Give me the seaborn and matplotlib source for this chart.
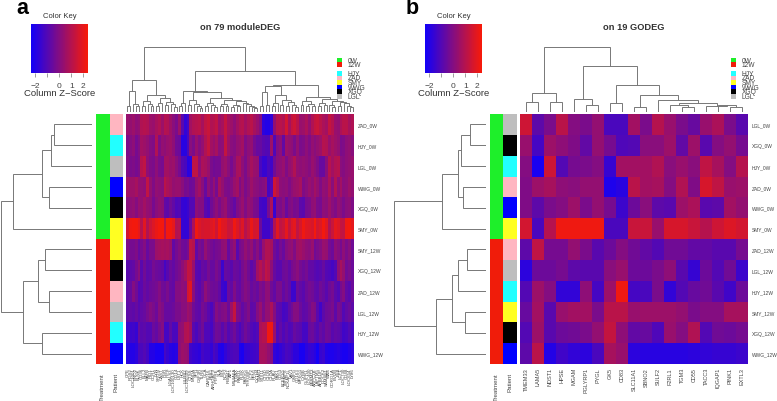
import numpy as np
import pandas as pd
import seaborn as sns
import matplotlib
matplotlib.use("Agg")
import matplotlib.pyplot as plt
from matplotlib.colors import LinearSegmentedColormap, ListedColormap
from matplotlib.patches import Rectangle

W, H = 777, 402

# ---- panel a data ----
rows_a = ["ZAD_0W", "HJY_0W", "LGL_0W", "WWG_0W", "XGQ_0W", "SMY_0W",
          "SMY_12W", "XGQ_12W", "ZAD_12W", "LGL_12W", "HJY_12W", "WWG_12W"]
patient_a = ["ZAD", "HJY", "LGL", "WWG", "XGQ", "SMY", "SMY", "XGQ", "ZAD", "LGL", "HJY", "WWG"]

# gene names are barely legible in the source, these are best guesses
genes_a = ["CPE", "RGS2", "LOC1001", "ENO2", "BLNK", "CD36", "ELL2", "MAFB", "PID1", "CCR1",
           "LYN", "SRGN", "CAST", "FGR", "IRF8", "LGALS3", "LOC100130", "CD14", "LST1", "HCK",
           "LILRB2", "LOC100509", "CTSS", "MNDA", "SPI1", "CSF3R", "TLR8", "GCA", "CARD16", "FPR1",
           "ARHGAP9", "PTPRE", "SLA", "BTK", "NCF2", "RBM47", "AIF1", "MS4A6A", "ITGAX", "RAB31",
           "PLEK", "PARVG", "TYROBP", "LCP2", "PFN1", "CYTH4", "STAB1", "STX11", "CTSD", "C1QB",
           "C1QA", "PLAU", "PAK1", "CD53", "FCER1G", "TNFAIP8", "NCKAP1L", "VAV1", "GMFG", "CD163",
           "MPEG1", "CYBB", "GLIPR1", "LOC400", "FERMT3", "ARPC1B", "LAPTM5", "APBB1IP", "DOCK2", "SAMSN1",
           "WAS", "CORO1A", "EVI2B", "FYB", "LCP1", "LOC730", "CD48", "LOC654", "LY86"]

vals_a_rows = [
    [0.4, 0.3, 0.5, 0.2, 0.3, 0.9, 1.0, 0.9, 0.5, 0.4,
     0.7, 0.9, 0.5, 1.0, 0.9, 0.5, 0.1, -0.2, 0.5, -0.9,
     -1.7, -1.3, 0.6, 0.9, 1.0, 1.1, 0.7, 1.2, 1.4, 0.9,
     1.0, 1.2, 0.5, 0.7, 1.3, 0.7, 0.5, 0.2, 0.6, 0.9,
     1.0, 0.6, 0.9, 1.1, 0.7, 0.4, 0.0, -1.8, -2.0, -2.0,
     -1.7, 0.3, 1.0, 1.1, 0.9, 1.6, 0.7, 1.3, 1.5, 1.1,
     0.4, 0.5, 0.8, 0.3, 0.9, 1.3, 1.4, 1.1, 0.8, 0.6,
     1.3, 1.0, 0.4, 0.3, 0.8, 1.1, 1.1, 0.7, 0.9],
    [-0.2, 0.0, 0.2, -0.3, 0.0, 0.6, 0.5, 0.3, 0.0, -0.1,
     0.9, -0.1, 0.3, 0.2, 0.4, 0.5, 0.2, -0.4, -0.5, -1.9,
     -1.9, -1.2, 0.1, -0.2, 0.4, 0.0, 0.3, 0.9, 1.3, 0.6,
     0.4, 0.7, 0.1, 0.2, 1.3, 0.5, 0.1, 0.0, 0.3, 0.4,
     0.6, -0.1, 0.2, 0.3, -0.3, -0.6, -0.6, -0.9, -1.0, -1.0,
     0.5, -1.1, 0.0, 0.2, -0.7, 0.5, 0.3, 0.2, -0.2, 0.3,
     -0.2, -0.1, 0.2, -0.1, 0.3, 0.1, 0.3, 0.5, 1.0, 0.9,
     0.4, 0.7, 0.5, 0.3, -0.2, -0.1, 0.2, 0.3, 0.1],
    [0.0, -0.2, -0.1, -0.3, -0.1, 1.0, 1.2, 0.2, -0.1, -0.2,
     0.2, -0.2, -0.3, 0.6, 0.6, 0.4, 0.5, 0.1, -0.3, -1.0,
     -1.2, -1.9, -1.8, 1.2, 1.2, 0.2, 0.8, 0.7, 0.4, -0.2,
     -0.4, -0.3, -0.3, 0.3, 0.5, 0.1, -0.3, 0.1, 0.7, 0.8,
     0.2, -0.2, 0.3, 0.7, 0.4, 0.3, -1.2, -1.6, -1.6, -1.2,
     -1.4, -0.4, 0.1, 0.2, 0.4, -0.1, 0.3, 0.5, 0.9, 0.3,
     0.2, 0.3, 0.2, 0.0, 0.4, 0.2, -0.1, -0.6, -0.6, 0.1,
     1.0, 0.6, 0.9, 1.0, 0.1, 0.0, 0.2, 0.3, 0.4],
    [0.6, 0.5, 0.5, 0.7, 0.3, 0.3, 0.2, 1.2, 0.3, -0.1,
     0.3, 0.2, 0.1, 1.1, 0.8, 0.6, 0.3, 0.4, 0.4, 0.1,
     -0.3, -0.2, -0.5, -0.4, 0.3, 0.6, 0.1, -0.6, 0.2, -0.2,
     0.3, -0.3, 0.7, 0.3, -0.1, -0.2, 0.0, 0.4, 0.6, -0.1,
     0.3, -0.2, 0.1, 0.5, 0.2, 0.1, -0.1, 0.0, 0.2, -1.3,
     -1.0, 1.5, 1.0, 0.2, 0.1, 0.2, -0.1, 0.2, 0.4, 0.5,
     0.7, -0.1, 0.1, 0.4, 0.2, 0.6, 0.3, -0.1, 0.3, 0.2,
     0.8, 0.1, 0.9, 0.2, 0.6, 0.1, 0.2, 0.5, 0.3],
    [0.1, 0.2, 0.3, 0.0, 0.4, 0.3, 0.6, 0.3, 0.2, -0.3,
     0.1, 0.3, 0.2, -0.7, -0.8, -0.4, -0.7, -1.1, -1.0, -1.6,
     -1.7, -1.5, -1.0, -1.0, 0.2, 0.0, 0.0, -0.9, -1.1, -0.4,
     -0.1, 0.2, -0.2, 0.2, 0.4, -0.2, -0.4, -0.7, -0.1, 0.1,
     0.4, -0.1, 0.3, 0.2, -0.2, -0.3, -1.3, -1.4, -1.4, -0.3,
     0.8, -1.6, -0.1, -0.2, 0.1, -0.6, -0.1, 0.0, -0.3, -0.2,
     -0.8, -0.9, -0.3, -0.2, 0.2, 0.3, -0.2, -0.3, 0.2, 0.1,
     0.5, 0.1, -0.1, 0.3, 0.1, -0.2, 0.1, 0.2, -0.1],
    [1.6, 2.2, 2.3, 2.3, 2.0, 1.0, 1.9, 0.9, 1.5, 1.8,
     2.1, 2.3, 2.3, 1.1, 2.3, 2.3, 2.0, 0.9, 1.0, -1.6,
     -1.7, -1.6, -0.5, 0.8, 2.2, 1.8, 1.6, 1.7, 1.7, 1.8,
     2.0, 1.5, 2.3, 1.9, 1.8, 1.4, 1.5, 2.2, 1.8, 1.4,
     1.8, 1.0, 1.4, 2.1, 1.6, 1.7, -0.5, -1.4, -1.4, -1.4,
     -0.9, 0.9, 1.9, 1.2, 1.4, 2.0, 1.3, 1.8, 2.0, 1.2,
     1.7, 2.2, 1.9, 1.8, 1.7, 2.3, 1.6, 1.8, 2.3, 1.9,
     0.9, 1.4, 2.0, 1.8, 1.3, 1.2, 2.2, 2.3, 2.0],
    [-0.1, -0.3, -0.3, -0.1, -0.6, -0.3, 0.0, -0.6, -0.2, -0.2,
     0.5, 0.6, 0.7, 0.6, 0.7, 0.5, -0.7, -0.3, 0.0, -0.4,
     -0.5, -0.2, 1.2, 1.0, -0.7, -0.2, -0.4, 0.3, -0.1, -0.3,
     -0.5, -0.3, -0.2, 0.2, 0.3, -0.6, 0.0, 0.3, -0.9, -0.3,
     -0.1, 0.3, 0.0, 0.3, -0.3, 0.1, -0.5, 0.4, 0.9, 0.9,
     0.7, -0.4, -0.7, -0.3, -0.6, 0.0, 0.2, 0.3, -0.1, 0.5,
     0.6, 0.4, 0.2, 0.1, 0.4, -0.4, -0.2, 0.0, 0.4, 0.3,
     -0.3, -0.5, 0.2, 0.0, -0.3, 0.2, -0.2, 0.1, -0.4],
    [-0.9, -0.8, -0.7, -0.3, 0.1, -0.9, -0.4, -0.8, -0.7, -0.3,
     -0.5, -0.6, -0.7, -1.3, -0.9, -0.5, -0.7, -0.4, -0.2, 0.2,
     0.6, 1.3, 1.2, 0.4, -0.9, -1.0, -0.6, -0.7, -0.3, -0.6,
     -0.6, -0.2, -0.5, -1.5, -0.6, -0.7, -0.9, -0.5, -0.6, -0.8,
     -0.3, 0.0, -0.4, -0.8, -0.5, 0.6, 1.0, 0.6, 1.2, 1.0,
     0.2, -0.6, -0.9, -0.9, -0.5, -0.4, -0.7, -0.3, -0.1, 0.1,
     -0.3, -0.5, -0.3, -0.7, -0.7, -0.9, -1.0, -0.9, -0.6, -1.0,
     -1.1, -1.3, -1.0, 0.2, 0.7, 0.3, -0.4, -0.2, -0.5],
    [-0.7, -0.6, 0.0, -0.4, -1.0, -0.9, -0.5, -0.7, -0.5, -0.4,
     -0.3, 0.0, -0.4, -0.5, -0.2, -0.6, -0.7, 0.0, 0.0, 0.2,
     0.1, 1.6, 1.9, 0.1, -0.7, -0.9, -0.5, 0.2, -0.2, -0.4,
     -0.5, -0.4, -0.7, -1.5, -1.6, -0.5, -0.7, -0.1, -0.6, -0.7,
     -0.3, 0.0, -0.2, -0.6, -0.4, -0.6, -0.1, -0.3, 0.2, 0.2,
     -0.4, -0.7, -0.2, -0.2, -0.7, -0.4, -0.7, -1.5, -1.5, -0.5,
     -0.7, -0.9, -0.5, -0.3, -0.4, -0.7, -0.8, -0.4, -0.6, -0.9,
     -0.5, -0.3, -0.8, -1.0, -0.3, 0.0, -0.7, -0.9, -0.5],
    [-0.8, -0.7, -0.8, -0.6, -0.9, -0.7, -0.6, -0.3, 0.0, -0.2,
     -0.5, 0.1, -0.1, -0.6, -0.6, -0.6, -0.5, -0.2, -0.2, 0.1,
     0.1, 0.5, 0.3, -0.4, -0.7, -0.8, -0.3, -0.5, -0.9, -1.2,
     -0.7, 0.0, -0.3, -0.1, 0.0, -0.5, 0.5, 1.3, -0.1, -0.3,
     -0.7, -0.4, -0.1, -0.8, -0.7, 0.0, 0.4, -0.2, 0.3, 0.3,
     0.8, 0.0, -0.8, -0.9, -1.3, -1.2, -0.7, -0.4, 0.0, 0.0,
     -0.5, -0.8, -0.7, -0.4, 0.0, -0.1, -0.9, -1.4, -0.8, -0.5,
     -0.4, -0.2, -0.8, -0.2, -0.4, -1.0, -0.7, -0.5, -0.8],
    [-1.5, -1.5, -1.4, -1.6, -0.6, -0.9, -0.8, -1.0, -1.0, -0.5,
     -0.7, -0.3, 0.0, -1.3, -1.3, -0.7, -1.2, -1.2, 0.2, 0.3,
     0.9, 1.0, 0.6, -0.9, -1.2, -0.8, -0.4, -1.1, -1.1, -1.3,
     -0.8, -0.4, -0.5, -0.9, -0.5, -1.0, -0.7, -0.4, -0.9, -1.2,
     -0.8, -0.4, -0.7, -1.0, -1.2, -1.0, 0.8, 1.0, 1.0, 2.2,
     2.2, 0.4, -1.0, -0.7, -1.1, -0.8, -1.1, -1.0, -0.6, -0.8,
     -0.9, -1.3, -1.3, -0.6, -0.5, -0.8, -1.0, -0.6, -0.8, -0.4,
     -0.5, -0.9, -0.7, -0.8, -1.0, -1.4, -1.3, -1.0, -1.3],
    [-1.9, -2.0, -2.0, -1.8, -1.2, -1.2, -1.0, -1.3, -2.0, -2.0,
     -2.2, -2.2, -2.2, -1.3, -1.6, -1.9, -2.0, -1.9, 0.2, 0.5,
     0.4, 0.2, -1.4, -1.6, -1.7, -1.8, -1.3, -1.5, -1.5, -1.7,
     -1.2, -1.4, -2.0, -2.1, -1.7, -1.4, -1.2, -1.1, -1.1, -2.1,
     -2.2, -1.7, -1.6, -1.5, -1.4, -1.3, 0.7, 0.7, 0.6, 0.3,
     0.0, -1.7, -1.9, -1.7, -1.5, -1.2, -1.3, -1.5, -1.8, -1.8,
     -2.2, -2.2, -1.8, -1.6, -1.7, -1.9, -2.3, -1.6, -1.5, -2.0,
     -2.1, -2.1, -2.0, -1.9, -2.1, -2.2, -2.2, -2.0, -1.8],
]

# ---- panel b data ----
rows_b = ["LGL_0W", "XGQ_0W", "HJY_0W", "ZAD_0W", "WWG_0W", "SMY_0W",
          "ZAD_12W", "LGL_12W", "HJY_12W", "SMY_12W", "XGQ_12W", "WWG_12W"]
patient_b = ["LGL", "XGQ", "HJY", "ZAD", "WWG", "SMY", "ZAD", "LGL", "HJY", "SMY", "XGQ", "WWG"]
genes_b = ["TMEM33", "LAMA5", "NDST1", "HPSE", "MGAM", "PGLYRP1", "PYGL", "GK5", "CD83", "SLC11A1",
           "SBNO2", "SULF2", "F2RL1", "TGM3", "CD55", "TACC3", "IQGAP1", "PINK1", "EXTL3"]
vals_b_rows = [
    [1.5, -0.8, -0.2, 1.1, 0.0, -0.2, 0.3, -1.2, -1.2, 0.6, -0.2, 1.0, 0.4, -0.2, -0.6, 0.4, 0.8, -0.2, -0.9],
    [0.4, -1.3, 0.5, 0.2, -0.1, -0.7, 0.3, -0.3, -1.1, -1.0, 0.1, 0.1, 0.5, -0.7, 0.5, -0.9, 0.0, 0.3, -0.3],
    [0.0, -2.2, 1.5, -1.0, -0.3, -0.2, 0.0, -1.6, 0.6, 0.6, 0.6, 0.9, 0.1, 0.4, 0.1, 1.2, 0.7, 0.0, 1.0],
    [-0.1, 0.5, 0.7, 0.2, 0.1, 0.3, 0.3, -2.1, -1.9, 1.1, 0.6, 0.7, 0.0, 0.9, -0.1, 1.7, 1.2, 0.4, 0.5],
    [-0.1, -0.8, -0.2, 0.0, 0.5, -0.2, 0.3, -0.3, -1.5, -0.5, 0.1, -0.8, -0.9, 0.5, 0.8, -0.9, -0.8, 0.6, 0.3],
    [1.6, -1.2, 1.0, 2.2, 2.2, 2.2, 2.2, -1.2, -1.2, 1.4, 1.4, 0.4, 1.7, 1.7, 1.4, 1.0, 1.5, 1.8, 1.6],
    [-0.8, 1.2, -0.3, -0.3, 0.3, -0.2, -0.9, -0.5, 0.0, -0.4, -0.7, -1.0, -0.4, -0.4, -0.7, -0.7, -0.9, -0.9, -0.3],
    [-1.8, -0.5, -0.5, -0.3, -0.8, -0.9, -0.9, 0.1, 0.4, -0.5, -0.5, -0.2, 0.2, -0.9, -1.6, -0.5, -1.0, -0.4, -1.5],
    [-1.0, 0.5, 0.0, -1.7, -1.7, 0.2, -1.3, 0.5, 2.2, -1.3, -1.2, -0.2, -1.7, -1.0, -0.6, -0.4, -0.9, -1.4, -0.5],
    [-0.6, 0.6, -0.9, 0.4, 0.6, 0.6, -0.2, 1.1, 1.1, 0.4, 0.5, 0.5, 0.5, 0.3, -0.2, 0.0, 0.0, 0.7, 0.7],
    [-1.0, 0.5, -0.9, -0.5, -0.4, -0.2, 0.3, 1.3, 0.2, -0.7, -0.6, -1.1, 0.4, 0.0, 0.9, -1.0, -0.4, -0.5, -0.3],
    [-0.8, 1.1, -2.0, -1.4, -1.7, -1.8, -1.2, 0.7, 0.4, -1.8, -1.9, -1.9, -1.9, -1.9, -1.8, -1.7, -1.6, -1.6, -1.5],
]

# dendrograms as (merge height, left, right), 0 is a leaf
cols_tree_a = (65,
    (32,
        (21, (6, 0, 0), (8, 0, (6, 0, 0))),
        (17,
            (11, (6, 0, 0), (8, 0, (6, 0, 0))),
            (14, (9, (6, 0, 0), 0), (10, (7, 0, 0), (8, 0, (5, 0, 0)))))),
    (41,
        (21,
            (9, (6, 0, 0), 0),
            (20.5,
                (12, (7, 0, 0), (8, 0, (6, 0, (4, 0, 0)))),
                (14,
                    (9, (6, 0, 0), (7, 0, (5, 0, 0))),
                    (12,
                        (8, (6, 0, 0), (6, 0, 0)),
                        (11,
                            (7, (5, 0, 0), (6, 0, 0)),
                            (9, 0, (8, 0, (6, 0, (5, 0, (4, 0, 0)))))))))),
        (27,
            (26,
                (20, (6, 0, 0), (7, 0, 0)),
                (17, (9, (6, 0, 0), 0), (12, (7, 0, 0), (10, (6, 0, 0), (7, 0, (5, 0, 0)))))),
            (15,
                (11, (7, 0, 0), (8, (6, 0, 0), (6, 0, 0))),
                (13,
                    (9, (6, 0, 0), (7, 0, 0)),
                    (11, (7, 0, (5, 0, 0)), (10, (6, 0, 0), (9, 0, (6, 0, (5, 0, 0))))))))))
rows_tree_a = (91,
    (79.5, (49.7, (41, (38, 0, 0), 0), (42.7, 0, 0)), 0),
    (68.7, (53.7, (47, 0, 0), (42.7, 0, 0)), (49.7, 0, 0)))
cols_tree_b = (65,
    (19, (10, 0, 0), (10, 0, 0)),
    (45.7,
        (13, 0, (7, 0, 0)),
        (27,
            (8.7, 0, 0),
            (17,
                (5, 0, 0),
                (11.7,
                    0,
                    (8.7,
                        (7, 0, (5.5, 0, 0)),
                        (6, 0, (7, 0, (5, 0, 0)))))))))
rows_tree_b = (91.7,
    (43.7,
        (27.7, (25.3, (16.3, 0, 0), 0), (23.3, 0, 0)),
        0),
    (50.3,
        (33.7, (27.7, (19, 0, 0), 0), (21, 0, 0)),
        0))

treatment_order = ["0W", "12W"]
patient_order = ["HJY", "ZAD", "SMY", "WWG", "XGQ", "LGL"]
treatment_colors = {"0W": "#1EEF2A", "12W": "#F01C0A"}
patient_colors = {"HJY": "#22FFFF", "ZAD": "#FFB6C1", "SMY": "#FFFF22", "WWG": "#0000FF",
                  "XGQ": "#000000", "LGL": "#BEBEBE"}
key_ticks = [-2, -1, 0, 1, 2]
key_labels = ["\u22122", "", "0", "1", "2"]

sns.set_theme(style="white")
plt.rcParams["font.family"] = ["Liberation Sans", "DejaVu Sans"]
fig = plt.figure(figsize=(W / 100, H / 100), dpi=100)
cmap = LinearSegmentedColormap.from_list("bluered", ["#1000FA", "#F81A08"])
LINE = "#777777"
TXT = "#444444"


def box(x0, y0, x1, y1):
    ax = fig.add_axes([x0 / W, 1 - y1 / H, (x1 - x0) / W, (y1 - y0) / H])
    return ax


def put(x, y, s, **kw):
    fig.text(x / W, 1 - y / H, s, **kw)


def drawTree(ax, node, horizontal, nextLeaf):
    # returns position and height of the node, draws the bracket
    if node == 0:
        pos = nextLeaf[0] + 0.5
        nextLeaf[0] += 1
        return pos, 0
    h, left, right = node
    p1, h1 = drawTree(ax, left, horizontal, nextLeaf)
    p2, h2 = drawTree(ax, right, horizontal, nextLeaf)
    if horizontal:
        ax.plot([h1, h, h, h2], [p1, p1, p2, p2], color=LINE, lw=0.7, solid_joinstyle="miter")
    else:
        ax.plot([p1, p1, p2, p2], [h1, h, h, h2], color=LINE, lw=0.7, solid_joinstyle="miter")
    return (p1 + p2) / 2, h


def sideBar(x0, x1, y0, y1, names, colors, label):
    ax = box(x0, y0, x1, y1)
    codes = sorted(set(names))
    idx = np.array([[codes.index(n)] for n in names])
    sns.heatmap(idx, ax=ax, cmap=ListedColormap([colors[c] for c in codes]), cbar=False,
                xticklabels=False, yticklabels=False, vmin=-0.5, vmax=len(codes) - 0.5)
    put((x0 + x1) / 2, y1 + 8, label, rotation=90, ha="center", va="top", fontsize=4.4, color=TXT)


def panel(dx, letter, title, rows, genes, vals, patient, treeCols, treeRows, legendX, keyX,
          barX, hmX0, hmX1, baseX, rootX, geneSize, titleX):
    y0, y1 = 115, 365

    # colour key
    ax = box(keyX, 24.5, keyX + 57.5, 73.5)
    ramp = np.linspace(-2.4, 2.4, 120).reshape(1, -1)
    sns.heatmap(ramp, ax=ax, cmap=cmap, vmin=-2.4, vmax=2.4, cbar=False,
                xticklabels=False, yticklabels=False)
    ax.set_xticks([(v + 2.4) / 4.8 * 120 for v in key_ticks])
    ax.set_xticklabels(key_labels, fontsize=6, color=TXT)
    ax.tick_params(axis="x", bottom=True, length=3, width=0.5, color=LINE, pad=3.5)
    put(keyX + 29, 16, "Color Key", ha="center", va="center", fontsize=5.5, color="#333333")
    put(keyX + 29, 94, "Column Z\u2212Score", ha="center", va="center", fontsize=6.8, color="#333333")

    put(titleX, 27, title, ha="center", va="center", fontsize=6.7, fontweight="bold", color="#333333")
    put(dx + 22, 9, letter, ha="center", va="center", fontsize=15.5, fontweight="bold", color="black")

    # top dendrogram
    ax = box(hmX0, 40, hmX1, 113)
    drawTree(ax, treeCols, False, [0])
    ax.set_xlim(0, len(genes))
    ax.set_ylim(0, 73)
    ax.axis("off")

    # left dendrogram
    ax = box(rootX, y0, baseX, y1)
    drawTree(ax, treeRows, True, [0])
    ax.set_xlim(baseX - rootX, 0)
    ax.set_ylim(len(rows), 0)
    ax.axis("off")

    # annotation bars
    treatment = [r.split("_")[1] for r in rows]
    sideBar(barX, barX + 13.5, y0, y1, treatment, treatment_colors, "Treatment")
    sideBar(barX + 13.5, barX + 27, y0, y1, patient, patient_colors, "Patient")

    # main heatmap
    df = pd.DataFrame(vals, index=rows, columns=genes)
    ax = box(hmX0, y0, hmX1, y1)
    sns.heatmap(df, ax=ax, cmap=cmap, vmin=-2.4, vmax=2.4, cbar=False,
                xticklabels=True, yticklabels=True)
    ax.yaxis.tick_right()
    ax.tick_params(axis="both", length=0)
    ax.tick_params(axis="y", labelsize=3.5, labelcolor=TXT, rotation=0, pad=2.6)
    ax.tick_params(axis="x", labelsize=geneSize, labelcolor=TXT, rotation=90, pad=2.2)

    # side legends
    lx = legendX
    grid = {"0W": 59, "12W": 63.4, "HJY": 72, "ZAD": 76.6, "SMY": 81, "WWG": 85.8, "XGQ": 90.3, "LGL": 95}
    merged = dict(treatment_colors)
    merged.update(patient_colors)
    for name in treatment_order + patient_order:
        yy = grid[name]
        fig.add_artist(Rectangle((lx / W, 1 - (yy + 4.5) / H), 5 / W, 4.5 / H, color=merged[name],
                                 transform=fig.transFigure, lw=0))
        put(lx + 10.5, yy + 2.2, name, ha="left", va="center", fontsize=4.8, color=TXT)


panel(0, "a", "on 79 moduleDEG", rows_a, genes_a, vals_a_rows, patient_a, cols_tree_a, rows_tree_a,
      337, 30.5, 96, 126, 354, 92, 0, 3.2, 240)
panel(390, "b", "on 19 GODEG", rows_b, genes_b, vals_b_rows, patient_b, cols_tree_b, rows_tree_b,
      731, 424.5, 490, 520, 748, 486, 394.3, 4, 634)

fig.savefig("out.png", dpi=100)
